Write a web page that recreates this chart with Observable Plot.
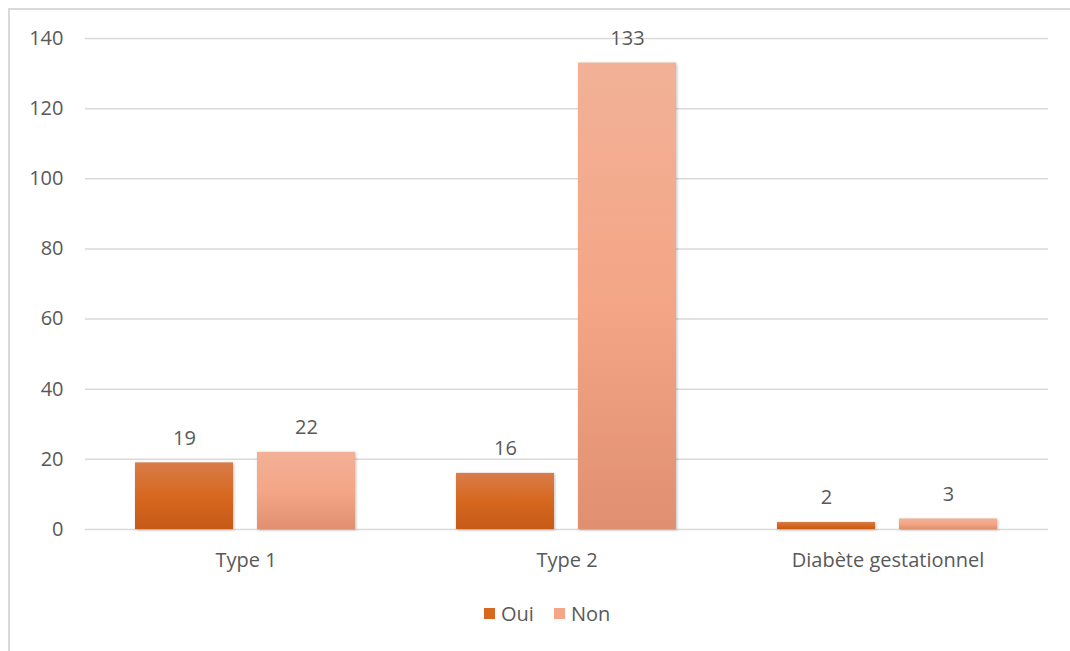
<!DOCTYPE html>
<html>
<head>
<meta charset="utf-8">
<script src="https://cdn.jsdelivr.net/npm/d3@7"></script>
<script src="https://cdn.jsdelivr.net/npm/@observablehq/plot@0.6"></script>
<style>
  html, body { margin: 0; padding: 0; background: #fff; overflow: hidden; }
  #frame {
    position: absolute; left: 8px; top: 8px; width: 1200px; height: 800px;
    border-left: 2px solid #d9d9d9; border-top: 2px solid #d9d9d9;
  }
  #chart { position: absolute; left: 0; top: 0; }
  #legend {
    position: absolute; left: 484px; top: 600px; display: flex; align-items: center;
    font-family: "Open Sans", Lato, sans-serif; font-size: 20px; color: #595959;
  }
  #legend .item { display: flex; align-items: center; margin-right: 20px; }
  #legend .sw { width: 11px; height: 11px; margin-right: 6px; }
</style>
</head>
<body>
<div id="frame"></div>
<div id="chart"></div>
<div id="legend"></div>
<script>
// Diabetes type by answer (Oui / Non)
const categories = ["Type 1", "Type 2", "Diabète gestationnel"];
const series = ["Oui", "Non"];
const oui = [19, 16, 2];
const non = [22, 133, 3];
const yTicks = [0, 20, 40, 60, 80, 100, 120, 140];

// Gradient stops per series (top, middle, bottom)
const gradients = {
  Oui: ["#d97c4a", "#d6681f", "#c65a17"],
  Non: ["#f2b197", "#f4a686", "#e09070"]
};
const swatch = { Oui: "#d6681f", Non: "#f4a686" };

const rows = [];
categories.forEach((c, i) => {
  rows.push({ category: c, answer: "Oui", value: oui[i] });
  rows.push({ category: c, answer: "Non", value: non[i] });
});

const font = "'Open Sans', Lato, sans-serif";

const plot = Plot.plot({
  width: 1070,
  height: 590,
  marginTop: 38,
  marginBottom: 61,
  marginLeft: 84,
  marginRight: 21,
  style: { fontFamily: font, fontSize: "20px", color: "#595959", background: "transparent" },
  fx: { domain: categories, padding: 0, label: null, axis: "bottom", tickSize: 0, tickPadding: 23 },
  x: { domain: series, paddingInner: 0.195, paddingOuter: 0.405, axis: null },
  y: { domain: [0, 140], ticks: yTicks, tickSize: 0, tickPadding: 22, label: null },
  color: { domain: series, range: series.map(s => `url(#grad-${s})`) },
  marks: [
    Plot.ruleY(yTicks, { stroke: "#d9d9d9", strokeWidth: 1.5 }),
    Plot.barY(rows, { fx: "category", x: "answer", y: "value", fill: "answer" }),
    Plot.text(rows, {
      fx: "category", x: "answer", y: "value", text: d => String(d.value),
      lineAnchor: "bottom", dy: -18, fill: "#595959", fontSize: 20
    })
  ]
});

// Vertical gradients used by the bars
const svg = d3.select(plot);
const defs = svg.insert("defs", ":first-child");
for (const s of series) {
  const g = defs.append("linearGradient")
    .attr("id", `grad-${s}`).attr("x1", 0).attr("y1", 0).attr("x2", 0).attr("y2", 1);
  const stops = gradients[s];
  g.append("stop").attr("offset", "0%").attr("stop-color", stops[0]);
  g.append("stop").attr("offset", "50%").attr("stop-color", stops[1]);
  g.append("stop").attr("offset", "100%").attr("stop-color", stops[2]);
}
svg.selectAll("g[aria-label='bar'] rect")
  .style("filter", "drop-shadow(1px 1px 1.5px rgba(0,0,0,0.25))");

document.getElementById("chart").appendChild(plot);

// Legend below the chart
const legend = d3.select("#legend");
for (const s of series) {
  const item = legend.append("div").attr("class", "item");
  item.append("div").attr("class", "sw").style("background", swatch[s]);
  item.append("span").text(s);
}
</script>
</body>
</html>
